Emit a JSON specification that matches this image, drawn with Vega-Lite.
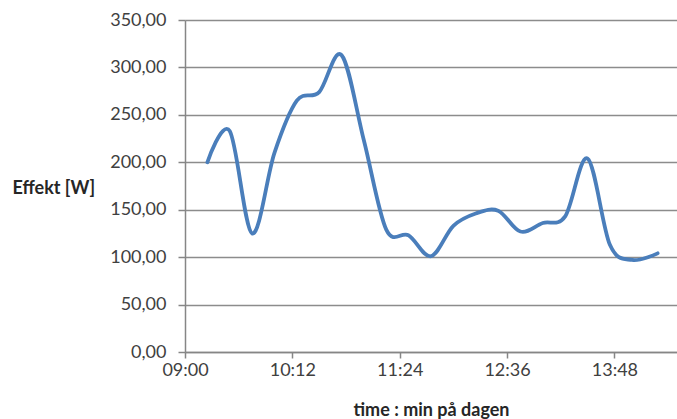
{
  "$schema": "https://vega.github.io/schema/vega-lite/v6.json",
  "autosize": "none",
  "padding": {"left": 185, "top": 20, "right": 0, "bottom": 67},
  "width": 492,
  "height": 332,
  "background": "white",
  "config": {
    "view": {"stroke": null},
    "font": "Lato"
  },
  "data": {
    "values": [
      {"time": "2024-01-01T09:15:00", "effekt": 200},
      {"time": "2024-01-01T09:30:00", "effekt": 233},
      {"time": "2024-01-01T09:45:00", "effekt": 125},
      {"time": "2024-01-01T10:00:00", "effekt": 210},
      {"time": "2024-01-01T10:15:00", "effekt": 265},
      {"time": "2024-01-01T10:30:00", "effekt": 274},
      {"time": "2024-01-01T10:45:00", "effekt": 313},
      {"time": "2024-01-01T11:00:00", "effekt": 223},
      {"time": "2024-01-01T11:15:00", "effekt": 129},
      {"time": "2024-01-01T11:30:00", "effekt": 123},
      {"time": "2024-01-01T11:45:00", "effekt": 101},
      {"time": "2024-01-01T12:00:00", "effekt": 133},
      {"time": "2024-01-01T12:15:00", "effekt": 146},
      {"time": "2024-01-01T12:30:00", "effekt": 149},
      {"time": "2024-01-01T12:45:00", "effekt": 127},
      {"time": "2024-01-01T13:00:00", "effekt": 136},
      {"time": "2024-01-01T13:15:00", "effekt": 143},
      {"time": "2024-01-01T13:30:00", "effekt": 204},
      {"time": "2024-01-01T13:45:00", "effekt": 113},
      {"time": "2024-01-01T14:00:00", "effekt": 97},
      {"time": "2024-01-01T14:17:00", "effekt": 104}
    ]
  },
  "mark": {"type": "line", "interpolate": "cardinal", "color": "#4a7ebb", "strokeWidth": 3.8, "strokeCap": "round", "strokeJoin": "round"},
  "encoding": {
    "x": {
      "field": "time",
      "type": "temporal",
      "scale": {"domain": [
        {"year": 2024, "month": 1, "date": 1, "hours": 9, "minutes": 0},
        {"year": 2024, "month": 1, "date": 1, "hours": 14, "minutes": 30}
      ]},
      "axis": {
        "title": "time : min på dagen",
        "titleFont": "Lato",
        "titleFontWeight": "bold",
        "titleFontSize": 18,
        "titleColor": "#262626",
        "titleBaseline": "middle",
        "titleY": 58,
        "format": "%H:%M",
        "values": [
          {"year": 2024, "month": 1, "date": 1, "hours": 9, "minutes": 0},
          {"year": 2024, "month": 1, "date": 1, "hours": 10, "minutes": 12},
          {"year": 2024, "month": 1, "date": 1, "hours": 11, "minutes": 24},
          {"year": 2024, "month": 1, "date": 1, "hours": 12, "minutes": 36},
          {"year": 2024, "month": 1, "date": 1, "hours": 13, "minutes": 48}
        ],
        "grid": false,
        "labelFont": "Lato",
        "labelFontSize": 18,
        "labelColor": "#404040",
        "labelPadding": 3,
        "labelFlush": false,
        "labelOverlap": false,
        "tickSize": 6,
        "tickColor": "#868686",
        "tickWidth": 1.5,
        "domainColor": "#868686",
        "domainWidth": 1.5
      }
    },
    "y": {
      "field": "effekt",
      "type": "quantitative",
      "scale": {"domain": [0, 350], "nice": false, "zero": true},
      "axis": {
        "title": "Effekt [W]",
        "titleFont": "Lato",
        "titleFontWeight": "bold",
        "titleFontSize": 18,
        "titleColor": "#262626",
        "titleAngle": 0,
        "titleAlign": "left",
        "titleBaseline": "middle",
        "titleX": -173,
        "titleY": 168,
        "values": [0, 50, 100, 150, 200, 250, 300, 350],
        "labelExpr": "replace(format(datum.value, '.2f'), '.', ',')",
        "labelFont": "Lato",
        "labelFontSize": 18,
        "labelColor": "#404040",
        "labelPadding": 12,
        "tickSize": 7,
        "tickColor": "#868686",
        "tickWidth": 1.5,
        "domainColor": "#868686",
        "domainWidth": 1.5,
        "grid": true,
        "gridColor": "#8c8c8c",
        "gridWidth": 1.5
      }
    }
  }
}
